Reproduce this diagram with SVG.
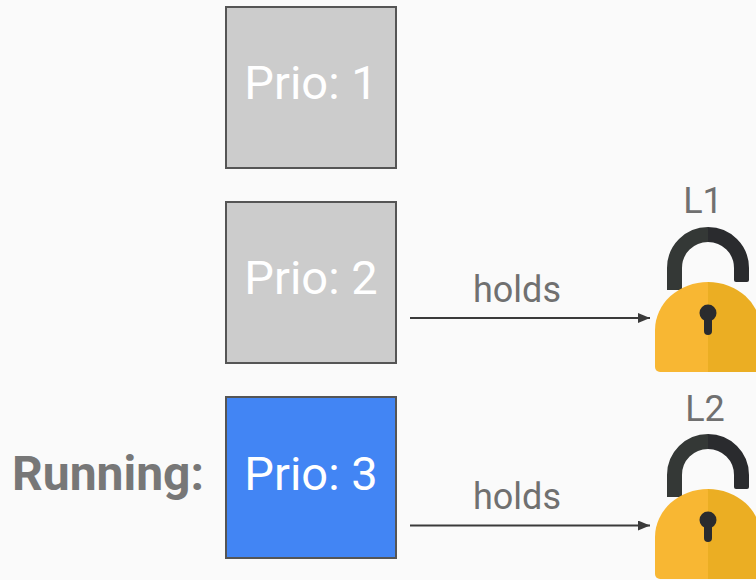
<svg xmlns="http://www.w3.org/2000/svg" width="756" height="580" viewBox="0 0 756 580">
<defs>
<style>
.box{stroke:#555;stroke-width:2}
.gray{fill:#cccccc}
.blue{fill:#4285f4}
.prio{font-family:Roboto,"Liberation Sans",sans-serif;font-size:47px;fill:#ffffff;text-anchor:middle}
.lbl{font-family:Roboto,"Liberation Sans",sans-serif;font-size:36px;fill:#707070;text-anchor:middle}
.run{font-family:Roboto,"Liberation Sans",sans-serif;font-size:48px;font-weight:bold;fill:#777777;text-anchor:middle}
.conn{stroke:#3a3a3a;stroke-width:2;fill:none;marker-end:url(#ah)}
</style>
<marker id="ah" viewBox="0 0 12 10" refX="12" refY="5" markerWidth="12" markerHeight="10" markerUnits="userSpaceOnUse" orient="auto">
<path d="M0,0 L12,5 L0,10 Z" fill="#3a3a3a"/>
</marker>
<g id="lockshape">
<path d="M674.5,290 V268 A33.5,33.5 0 0 1 708,234.5" stroke="#343836" stroke-width="15" fill="none"/>
<path d="M708,234.5 A33.5,33.5 0 0 1 741.5,268 V280" stroke="#2a2b2e" stroke-width="15" fill="none"/>
<rect x="734" y="270" width="15" height="12" rx="2" fill="#2a2b2e"/>
<path d="M708,282 A53,48 0 0 0 655,330 V367 A5,5 0 0 0 660,372 H708 Z" fill="#f8b733"/>
<path d="M708,282 A53,48 0 0 1 761,330 V367 A5,5 0 0 1 756,372 H708 Z" fill="#ebae23"/>
<circle cx="708" cy="313" r="8.5" fill="#2a2b2e"/>
<path d="M708,313 V331" stroke="#2a2b2e" stroke-width="8" stroke-linecap="round"/>
</g>
</defs>
<rect width="756" height="580" fill="#fafafa"/>
<g id="node-prio1">
<rect class="box gray" x="226" y="7" width="170" height="161"/>
<text class="prio" x="311" y="99">Prio: 1</text>
</g>
<g id="node-prio2">
<rect class="box gray" x="226" y="202" width="170" height="161"/>
<text class="prio" x="311" y="294">Prio: 2</text>
</g>
<g id="node-prio3">
<rect class="box blue" x="226" y="397" width="170" height="161"/>
<text class="prio" x="311" y="490">Prio: 3</text>
</g>
<g id="label-running">
<text class="run" x="108" y="490">Running:</text>
</g>
<g id="node-L1">
<text class="lbl" x="703" y="213">L1</text>
<use href="#lockshape"/>
</g>
<g id="node-L2">
<text class="lbl" x="705" y="421">L2</text>
<use href="#lockshape" transform="translate(0,207)"/>
</g>
<g id="connectors">
<line class="conn" x1="410" y1="318" x2="650" y2="318"/>
<text class="lbl" x="517" y="302">holds</text>
<line class="conn" x1="410" y1="525.5" x2="650" y2="525.5"/>
<text class="lbl" x="517" y="509">holds</text>
</g>
</svg>
